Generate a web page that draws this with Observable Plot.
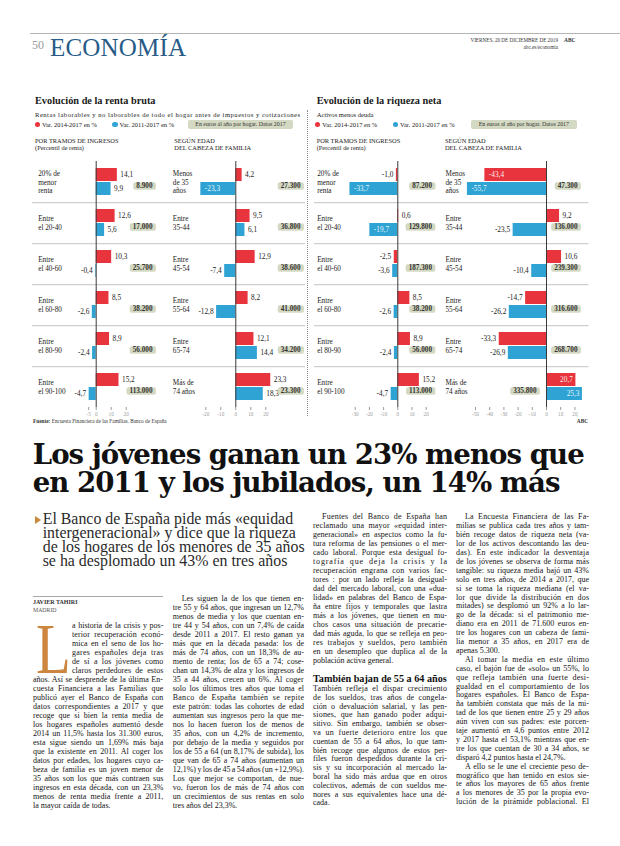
<!DOCTYPE html>
<html><head><meta charset="utf-8">
<script src="https://cdn.jsdelivr.net/npm/d3@7"></script>
<script src="https://cdn.jsdelivr.net/npm/@observablehq/plot@0.6"></script>
<style>
html,body{margin:0;padding:0;background:#fff;}
#page{position:relative;width:620px;height:846px;overflow:hidden;background:#fff;font-family:"Liberation Serif",serif;color:#1a1a1a;}
.a{position:absolute;white-space:nowrap;}
#page svg{position:absolute;overflow:visible;}
</style></head><body><div id="page"></div>
<script>
// ---------------- DATA ----------------
// Renta bruta – por tramos de ingresos
const rentaIngresosGrupos = ["20% de\nmenor\nrenta", "Entre\nel 20-40", "Entre\nel 40-60", "Entre\nel 60-80", "Entre\nel 80-90", "Entre\nel 90-100"];
const rentaIngresos2014 = [14.1, 12.6, 10.3, 8.5, 8.9, 15.2];
const rentaIngresos2011 = [9.9, 5.6, -0.4, -2.6, -2.4, -4.7];
const rentaIngresosEuros = [8900, 17000, 25700, 38200, 56000, 113000];
const rentaIngresosTicks = [-5, 0, 10, 20];
// Renta bruta – según edad
const rentaEdadGrupos = ["Menos\nde 35\naños", "Entre\n35-44", "Entre\n45-54", "Entre\n55-64", "Entre\n65-74", "Más de\n74 años"];
const rentaEdad2014 = [4.2, 9.5, 12.9, 8.2, 12.1, 23.3];
const rentaEdad2011 = [-23.3, 6.1, -7.4, -12.8, 14.4, 18.3];
const rentaEdadEuros = [27300, 36800, 38600, 41000, 34200, 23300];
const rentaEdadTicks = [-20, -10, 0, 10, 20];
// Riqueza neta – por tramos de ingresos
const riquezaIngresosGrupos = ["20% de\nmenor\nrenta", "Entre\nel 20-40", "Entre\nel 40-60", "Entre\nel 60-80", "Entre\nel 80-90", "Entre\nel 90-100"];
const riquezaIngresos2014 = [-1.0, 0.6, -2.5, 8.5, 8.9, 15.2];
const riquezaIngresos2011 = [-33.7, -19.7, -3.6, -2.6, -2.4, -4.7];
const riquezaIngresosEuros = [87200, 129800, 187300, 38200, 56000, 113000];
const riquezaIngresosTicks = [-30, -20, -10, 0, 10, 20];
// Riqueza neta – según edad
const riquezaEdadGrupos = ["Menos\nde 35\naños", "Entre\n35-44", "Entre\n45-54", "Entre\n55-64", "Entre\n65-74", "Más de\n74 años"];
const riquezaEdad2014 = [-43.4, 9.2, 10.6, -14.7, -33.3, 20.7];
const riquezaEdad2011 = [-55.7, -23.5, -10.4, -26.2, -26.9, 25.3];
const riquezaEdadEuros = [47300, 136000, 239300, 316600, 268700, 335800];
const riquezaEdadTicks = [-50, -40, -30, -20, -10, 0, 10, 20];
// rows whose value label is written inside the bar (as in the original)
const rentaEdadDentro2011 = [0];
const riquezaIngresosDentro2011 = [0, 1];
const riquezaEdadDentro2014 = [0, 5];
const riquezaEdadDentro2011 = [0, 5];

// ---------------- HELPERS ----------------
const RED = "#e8343d", BLUE = "#2fa4d4", BOX = "#d3d9c2", ORANGE = "#cc8640";
const page = document.getElementById("page");
const LIB = '"Liberation Serif", serif', DJV = '"DejaVu Serif", serif';
const ctx = document.createElement("canvas").getContext("2d");
function measure(t, font) { ctx.font = font; return ctx.measureText(t).width; }
function add(css, text, html) {
  const d = document.createElement("div"); d.className = "a";
  Object.assign(d.style, css);
  if (html != null) d.innerHTML = html; else if (text != null) d.textContent = text;
  page.appendChild(d); return d;
}
function txt(x, base, text, o = {}) {
  const size = o.size || 7, fam = o.family || LIB, lh = o.lh || size * 1.15;
  const css = {fontFamily: fam, fontSize: size + "px", lineHeight: lh + "px",
    top: (base - lh / 2 - 0.34 * size) + "px", color: o.color || "#1a1a1a", fontWeight: o.weight || "normal"};
  if (o.anchor === "end") css.right = (620 - x) + "px"; else css.left = x + "px";
  if (o.ls != null) css.letterSpacing = o.ls + "px";
  return add(css, o.html ? null : text, o.html || null);
}
function fitLS(t, font, width) { return (width - measure(t, font)) / Math.max(1, t.length - 1); }
function justifyLine(div, t, width, font, just) {
  const nat = measure(t, font), spaces = (t.match(/ /g) || []).length, extra = width - nat;
  if (!just) { if (extra < 0) div.style.letterSpacing = (extra / t.length) + "px"; return; }
  if (spaces > 0) {
    let ws = extra / spaces;
    if (ws < -0.9) { ws = -0.9; div.style.letterSpacing = ((extra + 0.9 * spaces) / (t.length - 1)) + "px"; }
    else if (ws > 2.2) { ws = 2.2; div.style.letterSpacing = ((extra - 2.2 * spaces) / (t.length - 1)) + "px"; }
    div.style.wordSpacing = ws + "px";
  } else div.style.letterSpacing = (extra / (t.length - 1)) + "px";
}
function column(lines, {x, w, base, lh, size = 8, indent = 9, dropN = 0, dropW = 0}) {
  const font = `${size}px "Liberation Serif"`;
  lines.forEach((raw, i) => {
    let t = raw, ind = 0, just = true;
    if (t.startsWith(">")) { t = t.slice(1); ind = indent; }
    if (t.endsWith("|")) { t = t.slice(0, -1); just = false; }
    if (i < dropN) ind += dropW;
    const d = txt(x + ind, base + i * lh, t, {size, lh: lh - 0.2, color: "#141414"});
    justifyLine(d, t, w - ind, font, just);
  });
}
const fmt1 = v => v.toFixed(1).replace(".", ",");
const fmtEuro = d3.formatLocale({decimal: ",", thousands: ".", grouping: [3], currency: ["", "€"]}).format(",d");

// ---------------- HEADER ----------------
add({left: "30px", top: "32.5px", width: "590px", height: "1.5px", background: "#b4b4b4"});
txt(32, 49.5, "50", {size: 12, color: "#9a9a9a"});
{
  const t = "ECONOMÍA", f = `25px "Liberation Serif"`;
  txt(50, 56.5, t, {size: 25, color: "#285b87", ls: fitLS(t, f, 136)});
}
txt(558, 42, "VIERNES, 20 DE DICIEMBRE DE 2019", {size: 5.2, anchor: "end", color: "#333"});
txt(564, 42, "ABC", {size: 5.4, weight: "bold", color: "#333"});
txt(558, 48.3, "abc.es/economia", {size: 5.2, anchor: "end", color: "#333"});

// ---------------- CHART HEADINGS ----------------
function heading(x, title, sub, subW, leg) {
  txt(x, 104.8, title, {size: 10.3, weight: "bold"});
  const sf = `6.6px "Liberation Serif"`;
  txt(x, 116.6, sub, {size: 6.6, ls: subW ? fitLS(sub, sf, subW) : null});
  add({left: (leg.red - 2.6) + "px", top: "121.8px", width: "5.2px", height: "5.2px", borderRadius: "50%", background: RED});
  txt(leg.red + 4.5, 126.8, "Var. 2014-2017 en %", {size: 6.5});
  add({left: (leg.blue - 2.6) + "px", top: "121.8px", width: "5.2px", height: "5.2px", borderRadius: "50%", background: BLUE});
  txt(leg.blue + 4.5, 126.8, "Var. 2011-2017 en %", {size: 6.5});
  add({left: leg.box0 + "px", top: "120.3px", width: (leg.box1 - leg.box0) + "px", height: "8.4px", lineHeight: "8.6px",
       background: BOX, borderRadius: "2px", fontSize: "5.9px", textAlign: "center", color: "#333"}, "En euros al año por hogar. Datos 2017");
  txt(x, 142.6, "POR TRAMOS DE INGRESOS", {size: 6.4});
  txt(x, 150.2, "(Percentil de renta)", {size: 6.4});
  txt(leg.sec, 142.6, "SEGÚN EDAD", {size: 6.4});
  txt(leg.sec, 150.2, "DEL CABEZA DE FAMILIA", {size: 6.4});
}
heading(35, "Evolución de la renta bruta", "Rentas laborables y no laborables de todo el hogar antes de impuestos y cotizaciones", 265,
  {red: 37.5, blue: 115, box0: 188, box1: 293, sec: 174.3});
heading(316.7, "Evolución de la riqueza neta", "Activos menos deuda", null,
  {red: 317.8, blue: 395.5, box0: 471, box1: 576.7, sec: 445});
// dotted divider
add({left: "307px", top: "110px", width: "0px", height: "306px", borderLeft: "1px dotted #8a8a8a"});
txt(33, 422.6, "", {size: 5.3, color: "#333", html: "<b>Fuente:</b> Encuesta Financiera de las Familias. Banco de España"});
txt(588, 422.6, "ABC", {size: 5.3, weight: "bold", anchor: "end", color: "#333"});

// ---------------- PANELS ----------------
const rowH = 41, plotTop = 161, axisH = 16;
const pIn = 0.08, pOut = 0.48;
const step = rowH / (2 - pIn + 2 * pOut), bw = step * (1 - pIn), bStart = (rowH - step * (2 - pIn)) / 2;
const sepDy = -(bStart + bw / 2);

function panel(cfg) {
  const {groups, a, b, euros, inA = [], inB = [], ticks, left, right, zero, k, labelX, boxRight} = cfg;
  const W = right - left;
  const x0 = -(zero - left) / k, x1 = (right - zero) / k;
  const rows = groups.flatMap((g, i) => [
    {group: g, series: "a", value: a[i], inside: inA.includes(i)},
    {group: g, series: "b", value: b[i], inside: inB.includes(i)}]);
  // the euro box sits at the right edge unless the blue bar runs into it
  const boxes = groups.map((g, i) => ({group: g, label: fmtEuro(euros[i]),
    left: b[i] > 0 && zero + b[i] * k + 10 > boxRight - 28}));
  const common = {y: "series", fy: "group", fontSize: 7.3};
  const svg = Plot.plot({
    width: W, height: rowH * groups.length + axisH,
    marginTop: 0, marginRight: 0, marginBottom: axisH, marginLeft: 0,
    style: {fontFamily: '"Liberation Serif", serif', fontSize: "7px", background: "transparent", overflow: "visible", color: "#222"},
    x: {domain: [x0, x1]},
    y: {domain: ["a", "b"], axis: null, paddingInner: pIn, paddingOuter: pOut},
    fy: {domain: groups, axis: null, padding: 0},
    color: {domain: ["a", "b"], range: [RED, BLUE]},
    marks: [
      Plot.ruleY(groups.slice(1).map(g => ({group: g})), {fy: "group", y: () => "a", dy: sepDy, stroke: "#cfcfcf", strokeWidth: 1.3}),
      Plot.text(groups.map(g => ({group: g})), {fy: "group", text: "group", frameAnchor: "left", textAnchor: "start",
        dx: labelX - left, lineHeight: 1.2, fontSize: 7.2, fill: "#222"}),
      Plot.barX(rows, {x: "value", y: "series", fy: "group", fill: "series"}),
      Plot.ruleX([0], {stroke: "#3a3a3a", strokeWidth: 1}),
      Plot.text(rows.filter(d => !d.inside && d.value >= 0), {...common, x: "value", text: d => fmt1(d.value), textAnchor: "start", dx: 3, fill: "#222"}),
      Plot.text(rows.filter(d => !d.inside && d.value < 0), {...common, x: "value", text: d => fmt1(d.value), textAnchor: "end", dx: -3, fill: "#222"}),
      Plot.text(rows.filter(d => d.inside && d.value < 0), {...common, x: "value", text: d => fmt1(d.value), textAnchor: "start", dx: 4, fill: "#fff", fillOpacity: 0.92}),
      Plot.text(rows.filter(d => d.inside && d.value >= 0), {...common, x: "value", text: d => fmt1(d.value), textAnchor: "end", dx: -3, fill: "#fff", fillOpacity: 0.92}),
      Plot.text(boxes.filter(d => !d.left), {fy: "group", y: () => "b", frameAnchor: "right", textAnchor: "end",
        dx: -(right - boxRight) - 3, dy: -3.5, text: "label", fontWeight: "bold", fontSize: 7.2, fill: "#333"}),
      Plot.text(boxes.filter(d => d.left), {fy: "group", y: () => "b", x: () => 0, textAnchor: "end",
        dx: -10, dy: -3.5, text: "label", fontWeight: "bold", fontSize: 7.2, fill: "#333"}),
      Plot.axisX({ticks, tickSize: 3, tickPadding: 1.5, label: null, tickFormat: d => String(d), fontSize: 5.2, color: "#9a9a9a", facetAnchor: "bottom"})
    ]
  });
  svg.style.left = left + "px";
  svg.style.top = plotTop + "px";
  page.appendChild(svg);
  svg.querySelectorAll('g[font-weight="bold"] text').forEach(t => {
    const bb = t.getBBox();
    const r = document.createElementNS("http://www.w3.org/2000/svg", "rect");
    r.setAttribute("x", bb.x - 3); r.setAttribute("y", bb.y + 0.4);
    r.setAttribute("width", bb.width + 6); r.setAttribute("height", bb.height - 0.4);
    r.setAttribute("rx", 2); r.setAttribute("fill", BOX);
    if (t.getAttribute("transform")) r.setAttribute("transform", t.getAttribute("transform"));
    t.parentNode.insertBefore(r, t);
  });
}
panel({groups: rentaIngresosGrupos, a: rentaIngresos2014, b: rentaIngresos2011, euros: rentaIngresosEuros, ticks: rentaIngresosTicks,
  left: 32, right: 168, zero: 95.7, k: 1.5, labelX: 37.7, boxRight: 155});
panel({groups: rentaEdadGrupos, a: rentaEdad2014, b: rentaEdad2011, euros: rentaEdadEuros, inB: rentaEdadDentro2011, ticks: rentaEdadTicks,
  left: 168, right: 305, zero: 235.3, k: 1.5, labelX: 172.3, boxRight: 303});
panel({groups: riquezaIngresosGrupos, a: riquezaIngresos2014, b: riquezaIngresos2011, euros: riquezaIngresosEuros, inB: riquezaIngresosDentro2011, ticks: riquezaIngresosTicks,
  left: 314, right: 442, zero: 397.3, k: 1.42, labelX: 316.7, boxRight: 434.5});
panel({groups: riquezaEdadGrupos, a: riquezaEdad2014, b: riquezaEdad2011, euros: riquezaEdadEuros, inA: riquezaEdadDentro2014, inB: riquezaEdadDentro2011, ticks: riquezaEdadTicks,
  left: 442, right: 588.5, zero: 546, k: 1.42, labelX: 445, boxRight: 580});

// ---------------- HEADLINE ----------------
{
  const S = 27.6, f = `bold ${S}px "DejaVu Serif"`;
  const l1 = "Los jóvenes ganan un 23% menos que", l2 = "en 2011 y los jubilados, un 14% más";
  const ls = fitLS(l1, f, 552);
  txt(32.7, 463.5, l1, {size: S, lh: 27, family: DJV, weight: "bold", color: "#111", ls});
  txt(32.7, 491.8, l2, {size: S, lh: 27, family: DJV, weight: "bold", color: "#111", ls});
}
// deck
{
  const lines = ["El Banco de España pide más «equidad", "intergeneracional» y dice que la riqueza",
                 "de los hogares de los menores de 35 años", "se ha desplomado un 43% en tres años"];
  const S = 15 * 262 / measure(lines[2], `15px "Liberation Serif"`);
  lines.forEach((t, i) => txt(42.7, 524 + i * 14, t, {size: S, lh: 13.6, color: "#2a2a2a"}));
  add({left: "35px", top: "515.5px", width: "0", height: "0", borderLeft: "6px solid " + ORANGE,
       borderTop: "4px solid transparent", borderBottom: "4px solid transparent"});
}

// ---------------- BYLINE ----------------
add({left: "33px", top: "595.5px", width: "130px", height: "1px", background: "#a8a8a8"});
txt(33, 604.3, "JAVIER TAHIRI", {size: 6, lh: 6.5, weight: "bold", color: "#333"});
txt(33, 611.8, "MADRID", {size: 5.8, lh: 6.3, color: "#555"});
// drop cap
add({left: "35.5px", top: (673.5 - 24 - 0.34 * 71) + "px", fontSize: "71px", lineHeight: "48px",
     color: ORANGE, fontFamily: LIB, transform: "scaleX(0.8)", transformOrigin: "left"}, "L");

// ---------------- BODY ----------------
const col1 = [
"a historia de la crisis y pos-","terior recuperación econó-","mica en el seno de los ho-","gares españoles deja tras",
"de sí a los jóvenes como","claros perdedores de estos","años. Así se desprende de la última En-",
"cuesta Financiera a las Familias que","publicó ayer el Banco de España con","datos correspondientes a 2017 y que",
"recoge que si bien la renta media de","los hogares españoles aumentó desde","2014 un 11,5% hasta los 31.300 euros,",
"esta sigue siendo un 1,69% más baja","que la existente en 2011. Al coger los","datos por edades, los hogares cuyo ca-",
"beza de familia es un joven menor de","35 años son los que más contraen sus","ingresos en esta década, con un 23,3%",
"menos de renta media frente a 2011,","la mayor caída de todas.|"];
const col2 = [
">Les siguen la de los que tienen en-","tre 55 y 64 años, que ingresan un 12,7%","menos de media y los que cuentan en-",
"tre 44 y 54 años, con un 7,4% de caída","desde 2011 a 2017. El resto ganan ya","más que en la década pasada: los de",
"más de 74 años, con un 18,3% de au-","mento de renta; los de 65 a 74; cose-","chan un 14,3% de alza y los ingresos de",
"35 a 44 años, crecen un 6%. Al coger","solo los últimos tres años que toma el","Banco de España también se repite",
"este patrón: todas las cohortes de edad","aumentan sus ingresos pero la que me-","nos lo hacen fueron los de menos de",
"35 años, con un 4,2% de incremento,","por debajo de la media y seguidos por","los de 55 a 64 (un 8,17% de subida), los",
"que van de 65 a 74 años (aumentan un","12,1%) y los de 45 a 54 años (un +12,9%).","Los que mejor se comportan, de nue-",
"vo, fueron los de más de 74 años con","un crecimientos de sus rentas en solo","tres años del 23,3%.|"];
const col3a = [
">Fuentes del Banco de España han","reclamado una mayor «equidad inter-","generacional» en aspectos como la fu-",
"tura reforma de las pensiones o el mer-","cado laboral. Porque esta desigual fo-","tografía que deja la crisis y la",
"recuperación engrana con varios fac-","tores : por un lado refleja la desigual-","dad del mercado laboral, con una «dua-",
"lidad» en palabras del Banco de Espa-","ña entre fijos y temporales que lastra","más a los jóvenes, que tienen en mu-",
"chos casos una situación de precarie-","dad más aguda, lo que se refleja en peo-","res trabajos y sueldos, pero también",
"en un desempleo que duplica al de la","población activa general.|"];
const col3b = [
"También refleja el dispar crecimiento","de los sueldos, tras años de congela-","ción o devaluación salarial, y las pen-",
"siones, que han ganado poder adqui-","sitivo. Sin embargo, también se obser-","va un fuerte deterioro entre los que",
"cuentan de 55 a 64 años, lo que tam-","bién recoge que algunos de estos per-","files fueron despedidos durante la cri-",
"sis y su incorporación al mercado la-","boral ha sido más ardua que en otros","colectivos, además de con sueldos me-",
"nores a sus equivalentes hace una dé-","cada.|"];
const col4 = [
">La Encuesta Financiera de las Fa-","milias se publica cada tres años y tam-","bién recoge datos de riqueza neta (va-",
"lor de los activos descontando las deu-","das). En este indicador la desventaja","de los jóvenes se observa de forma más",
"tangible: su riqueza media bajó un 43%","solo en tres años, de 2014 a 2017, que","si se toma la riqueza mediana (el va-",
"lor que divide la distribución en dos","mitades) se desplomó un 92% a lo lar-","go de la década: si el patrimonio me-",
"diano era en 2011 de 71.600 euros en-","tre los hogares con un cabeza de fami-","lia menor a 35 años, en 2017 era de",
"apenas 5.300.|",">Al tomar la media en este último","caso, el bajón fue de «solo» un 55%, lo",
"que refleja también una fuerte desi-","gualdad en el comportamiento de los","hogares españoles. El Banco de Espa-",
"ña también constata que más de la mi-","tad de los que tienen entre 25 y 29 años","aún viven con sus padres: este porcen-",
"taje aumentó en 4,6 puntos entre 2012","y 2017 hasta el 53,1% mientras que en-","tre los que cuentan de 30 a 34 años, se",
"disparó 4,2 puntos hasta el 24,7%.|",">A ello se le une el creciente peso de-","mográfico que han tenido en estos sie-",
"te años los mayores de 65 años frente","a los menores de 35 por la propia evo-","lución de la pirámide poblacional. El"];

column(col1, {x: 33, w: 130.3, base: 629.5, lh: 9, dropN: 6, dropW: 39});
column(col2, {x: 172.7, w: 131.3, base: 602.5, lh: 9});
column(col3a, {x: 313, w: 134, base: 520.5, lh: 9});
{
  const t = "También bajan de 55 a 64 años";
  const S = 10 * 134 / measure(t, `bold 10px "Liberation Serif"`);
  txt(313, 682.8, t, {size: S, lh: 10, weight: "bold", color: "#111"});
}
column(col3b, {x: 313, w: 134, base: 692, lh: 8.8});
column(col4, {x: 456, w: 133, base: 520.5, lh: 8.9});
</script></body></html>
